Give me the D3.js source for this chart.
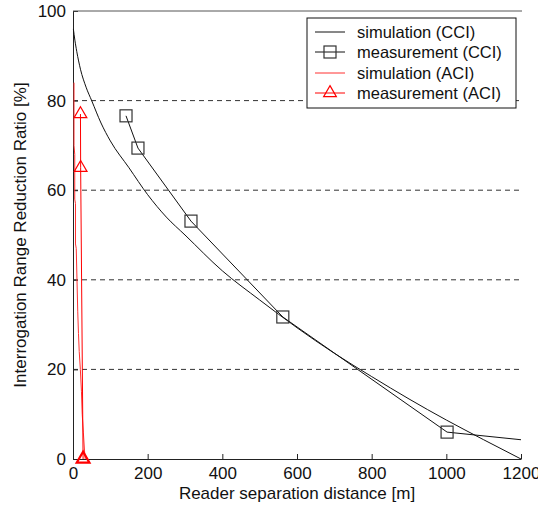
<!DOCTYPE html>
<html lang="en">
<head>
    <meta charset="UTF-8">
    <title>Interrogation Range Reduction Ratio</title>
    <script src="https://d3js.org/d3.v7.min.js"></script>
    <style>
        body { margin: 0; background: #fff; }
        svg { font-family: "Liberation Sans", Arial, sans-serif; }
        .tick-label { font-size: 17px; fill: #111; }
        .axis-title { font-size: 17px; fill: #111; }
        .legend-text { font-size: 16.5px; fill: #111; }
    </style>
</head>
<body>
    <svg id="chart"></svg>

    <script>
        // Axis ticks
        const xTicks = [0, 200, 400, 600, 800, 1000, 1200];
        const yTicks = [0, 20, 40, 60, 80, 100];
        const gridValues = [20, 40, 60, 80];

        // simulation (CCI)
        const cciSimX = [1, 5, 10, 20, 35, 50, 75, 100, 150, 200, 250, 300, 400, 500, 600, 700, 800, 900, 1000, 1100, 1200];
        const cciSimY = [96, 93.5, 91, 87, 83, 80, 75, 71, 65, 59, 54, 50, 42, 35.5, 29.3, 23.6, 18.4, 13.4, 8.7, 4.3, 0];

        // measurement (CCI) - last point has no marker
        const cciMeasX = [142, 174, 316, 562, 1002, 1200];
        const cciMeasY = [76.6, 69.4, 53.1, 31.7, 6.0, 4.3];
        const cciMarkers = 5;

        // simulation (ACI) - staircase near the origin
        const aciSimX = [0, 0, 2, 2, 4, 4, 6, 8, 10, 12, 14, 17, 20, 22, 25, 28, 30];
        const aciSimY = [84, 70, 68, 58, 57, 48, 47, 40, 33, 28, 24, 20, 15, 10, 6, 2, 0];

        // measurement (ACI)
        const aciMeasX = [20, 20.5, 27];
        const aciMeasY = [77, 65, 0];

        const legendLabels = ["simulation (CCI)", "measurement (CCI)", "simulation (ACI)", "measurement (ACI)"];

        const W = 538, H = 510;
        const margin = { top: 11, right: 17, bottom: 51, left: 73 };
        const width = W - margin.left - margin.right;
        const height = H - margin.top - margin.bottom;

        const svg = d3.select("#chart").attr("width", W).attr("height", H);
        const g = svg.append("g").attr("transform", `translate(${margin.left},${margin.top})`);

        const x = d3.scaleLinear().domain([0, 1200]).range([0, width]);
        const y = d3.scaleLinear().domain([0, 100]).range([height, 0]);

        // dashed grid lines
        g.selectAll(".grid")
            .data(gridValues)
            .enter().append("line")
            .attr("x1", 0).attr("x2", width)
            .attr("y1", d => y(d)).attr("y2", d => y(d))
            .attr("stroke", "#333")
            .attr("stroke-width", 1)
            .attr("stroke-dasharray", "5,4");

        // axes with inward ticks
        const xAxis = g.append("g")
            .attr("transform", `translate(0,${height})`)
            .call(d3.axisBottom(x).tickValues(xTicks).tickFormat(d3.format("d"))
                .tickSizeInner(-5).tickSizeOuter(0).tickPadding(8));
        const yAxis = g.append("g")
            .call(d3.axisLeft(y).tickValues(yTicks).tickFormat(d3.format("d"))
                .tickSizeInner(-5).tickSizeOuter(0).tickPadding(7));

        [xAxis, yAxis].forEach(a => {
            a.select(".domain").attr("stroke", "#222");
            a.selectAll(".tick line").attr("stroke", "#222");
            a.selectAll(".tick text").attr("class", "tick-label").attr("font-size", null).attr("font-family", null);
        });

        // top border
        g.append("line")
            .attr("x1", 0).attr("x2", width + 1)
            .attr("y1", 0).attr("y2", 0)
            .attr("stroke", "#555");

        // axis titles
        svg.append("text")
            .attr("class", "axis-title")
            .attr("x", margin.left + width / 2)
            .attr("y", 499)
            .attr("text-anchor", "middle")
            .text("Reader separation distance [m]");

        svg.append("text")
            .attr("class", "axis-title")
            .attr("transform", `translate(26,${margin.top + height / 2}) rotate(-90)`)
            .attr("text-anchor", "middle")
            .text("Interrogation Range Reduction Ratio [%]");

        const line = d3.line().x(d => x(d[0])).y(d => y(d[1]));
        const smooth = d3.line().x(d => x(d[0])).y(d => y(d[1])).curve(d3.curveMonotoneX);

        const cciSim = cciSimX.map((v, i) => [v, cciSimY[i]]);
        const cciMeas = cciMeasX.map((v, i) => [v, cciMeasY[i]]);
        const aciSim = aciSimX.map((v, i) => [v, aciSimY[i]]);
        const aciMeas = aciMeasX.map((v, i) => [v, aciMeasY[i]]);

        g.append("path").datum(cciSim).attr("d", smooth)
            .attr("fill", "none").attr("stroke", "#111").attr("stroke-width", 1);
        g.append("path").datum(cciMeas).attr("d", line)
            .attr("fill", "none").attr("stroke", "#111").attr("stroke-width", 1);

        g.selectAll(".sq")
            .data(cciMeas.slice(0, cciMarkers))
            .enter().append("rect")
            .attr("x", d => x(d[0]) - 6).attr("y", d => y(d[1]) - 6)
            .attr("width", 12).attr("height", 12)
            .attr("fill", "none").attr("stroke", "#333").attr("stroke-width", 1.2);

        g.append("path").datum(aciSim).attr("d", line)
            .attr("transform", "translate(1,0)")
            .attr("fill", "none").attr("stroke", "#ff3030").attr("stroke-width", 1);
        g.append("path").datum(aciMeas).attr("d", line)
            .attr("fill", "none").attr("stroke", "#ff0000").attr("stroke-width", 1);

        const tri = d3.symbol().type(d3.symbolTriangle).size(70);
        g.selectAll(".tri")
            .data(aciMeas)
            .enter().append("path")
            .attr("d", tri)
            .attr("transform", d => `translate(${x(d[0])},${y(d[1])})`)
            .attr("fill", "none").attr("stroke", "#ff0000").attr("stroke-width", d => d[1] === 0 ? 2.2 : 1.2);

        // legend
        const lg = svg.append("g").attr("transform", "translate(307,18)");
        lg.append("rect")
            .attr("width", 209).attr("height", 90)
            .attr("fill", "#fff").attr("stroke", "#111").attr("stroke-width", 1);

        const legendColors = ["#111", "#111", "#ff3030", "#ff0000"];
        const rowY = [14, 34, 55, 75];
        legendLabels.forEach((label, i) => {
            lg.append("line")
                .attr("x1", 8).attr("x2", 38)
                .attr("y1", rowY[i]).attr("y2", rowY[i])
                .attr("stroke", legendColors[i]).attr("stroke-width", 1);
            if (i === 1) {
                lg.append("rect")
                    .attr("x", 23 - 6).attr("y", rowY[i] - 6)
                    .attr("width", 12).attr("height", 12)
                    .attr("fill", "none").attr("stroke", "#333").attr("stroke-width", 1.2);
            }
            if (i === 3) {
                lg.append("path").attr("d", tri)
                    .attr("transform", `translate(23,${rowY[i]})`)
                    .attr("fill", "none").attr("stroke", "#ff0000").attr("stroke-width", 1.2);
            }
            lg.append("text")
                .attr("class", "legend-text")
                .attr("x", 50).attr("y", rowY[i])
                .attr("dy", "0.35em")
                .text(label);
        });
    </script>
</body>
</html>
